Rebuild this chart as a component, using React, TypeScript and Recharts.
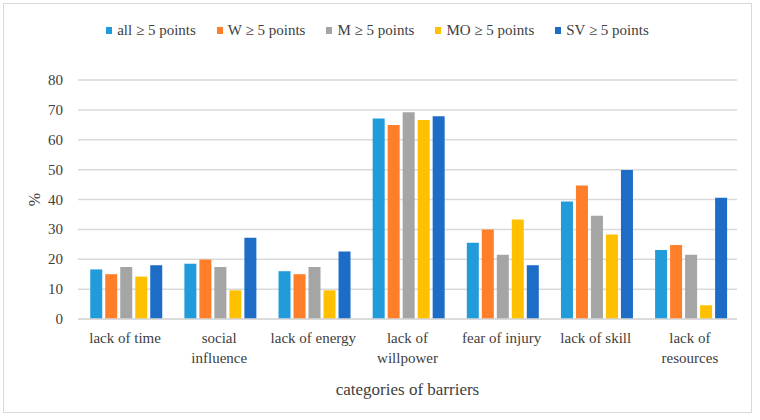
import React from 'react';
import { BarChart, Bar, XAxis, YAxis, CartesianGrid, Legend } from 'recharts';

const categories = ['lack of time', 'social influence', 'lack of energy', 'lack of willpower', 'fear of injury', 'lack of skill', 'lack of resources'];
const tickLines = [['lack of time'], ['social', 'influence'], ['lack of energy'], ['lack of', 'willpower'], ['fear of injury'], ['lack of skill'], ['lack of', 'resources']];
const allVals = [16.6, 18.5, 16.0, 67.1, 25.5, 39.3, 23.1];
const wVals = [15.0, 19.9, 15.0, 64.9, 30.0, 44.7, 24.8];
const mVals = [17.4, 17.4, 17.4, 69.2, 21.5, 34.6, 21.5];
const moVals = [14.2, 9.6, 9.6, 66.6, 33.3, 28.3, 4.6];
const svVals = [18.0, 27.2, 22.6, 67.9, 18.0, 49.9, 40.6];
const seriesNames = ['all \u2265 5 points', 'W \u2265 5 points', 'M \u2265 5 points', 'MO \u2265 5 points', 'SV \u2265 5 points'];
const yTicks = [0, 10, 20, 30, 40, 50, 60, 70, 80];

const colors = ['#229BDB', '#FF7E29', '#A5A5A5', '#FFC000', '#1D6DC6'];
const keys = ['all', 'w', 'm', 'mo', 'sv'];

const data = categories.map((c, i) => ({
  name: c,
  all: allVals[i],
  w: wVals[i],
  m: mVals[i],
  mo: moVals[i],
  sv: svVals[i],
}));

const FONT = '"Liberation Serif"';
const TXT = '#404040';

const XTick = (props: any) => {
  const { x, y, payload } = props;
  const i = categories.indexOf(payload.value);
  const lines = tickLines[i] || [payload.value];
  return (
    <g>
      {lines.map((l: string, k: number) => (
        <text key={k} x={x} y={y + 16 + k * 20} textAnchor="middle" fill={TXT} fontSize={15} fontFamily={FONT} style={{ fontFamily: FONT }}>
          {l}
        </text>
      ))}
    </g>
  );
};

const YTick = (props: any) => {
  const { x, y, payload } = props;
  return (
    <text x={x} y={y + 5} textAnchor="end" fill={TXT} fontSize={15} fontFamily={FONT} style={{ fontFamily: FONT }}>
      {payload.value}
    </text>
  );
};

const LegendContent = () => (
  <div style={{ display: 'flex', justifyContent: 'center', fontFamily: FONT, fontSize: 15, color: TXT }}>
    {seriesNames.map((n, i) => (
      <div key={n} style={{ display: 'flex', alignItems: 'center', marginRight: i < seriesNames.length - 1 ? 21 : 0 }}>
        <span style={{ display: 'inline-block', width: 6, height: 7, background: colors[i], marginRight: 5 }} />
        <span>{n}</span>
      </div>
    ))}
  </div>
);

export default function App() {
  return (
    <div style={{ position: 'absolute', left: 3, top: 3, width: 747, height: 408, border: '1px solid #d9d9d9', background: '#fff', fontFamily: FONT }}>
      <BarChart
        width={747}
        height={408}
        data={data}
        margin={{ top: 59, right: 14, left: 0, bottom: 0 }}
        barCategoryGap="13%"
        barGap={3}
      >
        <CartesianGrid vertical={false} stroke="#d9d9d9" strokeWidth={1.5} />
        <XAxis
          dataKey="name"
          axisLine={{ stroke: '#d9d9d9', strokeWidth: 1.5 }}
          tickLine={false}
          height={93}
          interval={0}
          tick={<XTick />}
          label={(props: any) => {
            const vb = props.viewBox;
            return (
              <text x={vb.x + vb.width / 2} y={vb.y + 76} textAnchor="middle" fill={TXT} fontSize={17} fontFamily={FONT} style={{ fontFamily: FONT }}>
                categories of barriers
              </text>
            );
          }}
        />
        <YAxis
          width={74}
          domain={[0, 80]}
          ticks={yTicks}
          axisLine={false}
          tickLine={false}
          tickSize={0}
          tickMargin={15}
          tick={<YTick />}
          label={(props: any) => {
            const vb = props.viewBox;
            const cx = 30;
            const cy = vb.y + vb.height / 2;
            return (
              <text x={cx} y={cy} transform={`rotate(-90 ${cx} ${cy})`} textAnchor="middle" dominantBaseline="central" fill={TXT} fontSize={16} fontFamily={FONT} style={{ fontFamily: FONT }}>
                %
              </text>
            );
          }}
        />
        <Legend verticalAlign="top" content={<LegendContent />} wrapperStyle={{ top: 18, left: 0, width: 747 }} />
        {keys.map((k, i) => (
          <Bar key={k} dataKey={k} name={seriesNames[i]} fill={colors[i]} isAnimationActive={false} />
        ))}
      </BarChart>
    </div>
  );
}
